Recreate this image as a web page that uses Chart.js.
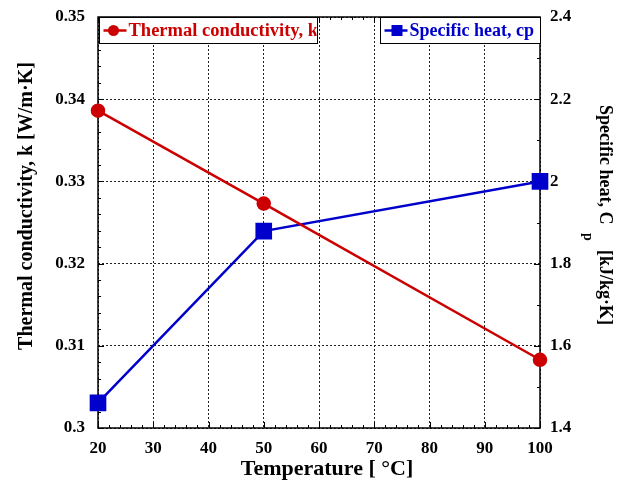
<!DOCTYPE html>
<html>
<head>
<meta charset="utf-8">
<script src="https://cdn.jsdelivr.net/npm/chart.js@4/dist/chart.umd.min.js"></script>
<style>
body{margin:0;background:#fff}
#wrap{width:625px;height:483px;position:relative}
</style>
</head>
<body>
<div id="wrap"><canvas id="myChart"></canvas></div>
<script>
var temps = [20, 50, 100];
var conductivity = [0.3386, 0.3273, 0.3083];
var specificHeat = [1.461, 1.879, 2.0];

var xTicks = [20, 100, 10];
var kTicks = [0.3, 0.35, 0.01];
var cpTicks = [1.4, 2.4, 0.2];

var RED = '#cc0000';
var BLUE = '#0000cc';
var SERIF = '"Liberation Serif", "Times New Roman", serif';

function pts(xs, ys){
    var out = [];
    for(var i=0; i<xs.length; i++){
        out.push({x: xs[i], y: ys[i]});
    }
    return out;
}

// frame, inward ticks, titles and the two legend boxes
var decor = {
    id: 'decor',
    beforeDatasetsDraw: function(chart){
        var ctx = chart.ctx, a = chart.chartArea;
        var sx = chart.scales.x, sk = chart.scales.yk, sc = chart.scales.ycp;
        ctx.save();
        ctx.strokeStyle = '#000';
        ctx.lineWidth = 1;
        ctx.beginPath();
        var v, p, len;
        for(v = xTicks[0]; v <= xTicks[1] + 0.001; v += 2){
            p = Math.round(sx.getPixelForValue(v)) + 0.5;
            len = (Math.round(v) % 10 === 0) ? 6 : 3;
            ctx.moveTo(p, a.bottom); ctx.lineTo(p, a.bottom - len);
            ctx.moveTo(p, a.top); ctx.lineTo(p, a.top + len);
        }
        for(var i = 0; i <= 25; i++){
            v = kTicks[0] + i * 0.002;
            p = Math.round(sk.getPixelForValue(v)) + 0.5;
            len = (i % 5 === 0) ? 6 : 3;
            ctx.moveTo(a.left, p); ctx.lineTo(a.left + len, p);
        }
        for(i = 0; i <= 10; i++){
            v = cpTicks[0] + i * 0.1;
            p = Math.round(sc.getPixelForValue(v)) + 0.5;
            len = (i % 2 === 0) ? 6 : 3;
            ctx.moveTo(a.right, p); ctx.lineTo(a.right - len, p);
        }
        ctx.stroke();
        ctx.lineWidth = 1.5;
        ctx.strokeRect(a.left, a.top, a.right - a.left, a.bottom - a.top);
        ctx.restore();
    },
    afterDraw: function(chart){
        var ctx = chart.ctx;
        ctx.save();
        ctx.fillStyle = '#000';
        ctx.textBaseline = 'middle';
        ctx.textAlign = 'center';
        ctx.font = 'bold 22px ' + SERIF;
        ctx.fillText('Temperature [ \u00B0C]', 327, 469);

        ctx.save();
        ctx.font = 'bold 20px ' + SERIF;
        ctx.translate(27, 206);
        ctx.rotate(-Math.PI / 2);
        ctx.fillText('Thermal conductivity, k [W/m\u00B7K]', 0, 0);
        ctx.restore();

        ctx.save();
        ctx.translate(605, 105);
        ctx.rotate(Math.PI / 2);
        ctx.textAlign = 'left';
        ctx.font = 'bold 18px ' + SERIF;
        ctx.fillText('Specific heat, C', 0, 0);
        ctx.font = 'bold 14px ' + SERIF;
        ctx.fillText('p', 128, 17);
        ctx.font = 'bold 18px ' + SERIF;
        ctx.fillText('[kJ/kg\u00B7K]', 145, 0);
        ctx.restore();

        // legend boxes
        drawLegend(ctx, 99.5, 17.5, 218, 26, RED, 'circle', 'Thermal conductivity, k', 18.5);
        drawLegend(ctx, 380.5, 17.5, 160, 26, BLUE, 'rect', 'Specific heat, cp', 18);
        ctx.restore();
    }
};

function drawLegend(ctx, x, y, w, h, color, shape, label, size){
    ctx.save();
    ctx.fillStyle = '#fff';
    ctx.fillRect(x, y, w, h);
    ctx.strokeStyle = '#000';
    ctx.lineWidth = 1;
    ctx.strokeRect(x, y, w, h);
    var cy = y + h / 2;
    ctx.strokeStyle = color;
    ctx.lineWidth = 2.5;
    ctx.beginPath();
    ctx.moveTo(x + 4, cy); ctx.lineTo(x + 27, cy);
    ctx.stroke();
    ctx.fillStyle = color;
    if(shape === 'circle'){
        ctx.beginPath();
        ctx.arc(x + 14, cy, 5.5, 0, Math.PI * 2);
        ctx.fill();
    } else {
        ctx.fillRect(x + 11, cy - 5.5, 11, 11);
    }
    ctx.beginPath();
    ctx.rect(x, y, w - 1, h);
    ctx.clip();
    ctx.font = 'bold ' + size + 'px ' + SERIF;
    ctx.textBaseline = 'middle';
    ctx.textAlign = 'left';
    ctx.fillText(label, x + 29, cy + 1);
    ctx.restore();
}

var tickFont = {family: SERIF, size: 17, weight: 'bold'};

function noPadY(s){ s.paddingTop = 0; s.paddingBottom = 0; }

var ctx = document.getElementById("myChart").getContext('2d');
var myChart = new Chart(ctx, {
    type: 'line',
    data: {
        datasets: [{
            label: 'Thermal conductivity, k',
            data: pts(temps, conductivity),
            yAxisID: 'yk',
            borderColor: RED,
            backgroundColor: RED,
            borderWidth: 2.5,
            pointStyle: 'circle',
            pointRadius: 6,
            pointHoverRadius: 6,
            clip: false
        }, {
            label: 'Specific heat, cp',
            data: pts(temps, specificHeat),
            yAxisID: 'ycp',
            borderColor: BLUE,
            backgroundColor: BLUE,
            borderWidth: 2.5,
            pointStyle: 'rect',
            pointRadius: 10,
            pointHoverRadius: 10,
            clip: false
        }]
    },
    options: {
        responsive: true,
        maintainAspectRatio: false,
        animation: false,
        events: [],
        layout: {padding: {top: 17, left: 0, right: 0, bottom: 0}},
        plugins: {legend: {display: false}, tooltip: {enabled: false}},
        scales: {
            x: {
                type: 'linear',
                min: xTicks[0], max: xTicks[1],
                ticks: {stepSize: xTicks[2], color: '#000', font: tickFont, padding: 10, maxRotation: 0},
                grid: {color: '#222', lineWidth: 1, drawTicks: false},
                border: {display: false, dash: [2, 2]},
                afterFit: function(s){ s.height = 55; s.paddingLeft = 0; s.paddingRight = 0; }
            },
            yk: {
                position: 'left',
                min: kTicks[0], max: kTicks[1],
                ticks: {stepSize: kTicks[2], color: '#000', font: tickFont, padding: 13,
                    callback: function(v){ return String(+v.toFixed(2)); }},
                grid: {color: '#222', lineWidth: 1, drawTicks: false},
                border: {display: false, dash: [2, 2]},
                afterFit: function(s){ s.width = 98; noPadY(s); }
            },
            ycp: {
                position: 'right',
                min: cpTicks[0], max: cpTicks[1],
                ticks: {stepSize: cpTicks[2], color: '#000', font: tickFont, padding: 10,
                    callback: function(v){ return String(+v.toFixed(1)); }},
                grid: {display: false, drawTicks: false},
                border: {display: false},
                afterFit: function(s){ s.width = 85; noPadY(s); }
            }
        }
    },
    plugins: [decor]
});
</script>
</body>
</html>
